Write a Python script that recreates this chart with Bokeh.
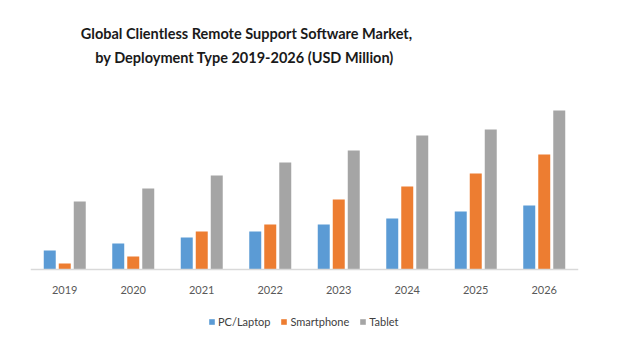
from bokeh.plotting import figure
from bokeh.models import ColumnDataSource, FactorRange, Range1d, Legend, LegendItem, Label
from bokeh.transform import dodge
from bokeh.embed import file_html
from bokeh.resources import INLINE

years = ["2019", "2020", "2021", "2022", "2023", "2024", "2025", "2026"]
pc_laptop = [19, 26, 32, 38, 45, 51, 58, 64]
smartphone = [6, 13, 38, 45, 70, 83, 96, 115]
tablet = [68, 81, 94, 107, 119, 134, 140, 159]
series_names = ["PC/Laptop", "Smartphone", "Tablet"]
colors = ["#5B9BD5", "#ED7D31", "#A5A5A5"]
title_lines = ["Global Clientless Remote Support Software Market,",
               "by Deployment  Type 2019-2026 (USD Million)"]

src = ColumnDataSource(dict(year=years, pc=pc_laptop, sp=smartphone, tab=tablet))

p = figure(frame_width=548, frame_height=353, x_range=FactorRange(factors=years),
           y_range=Range1d(-84, 269), output_backend="svg", toolbar_location=None,
           min_border_left=30, min_border_right=66, min_border_top=0,
           min_border_bottom=0)
p.outline_line_color = None
p.background_fill_color = "white"
p.border_fill_color = "white"
p.xgrid.visible = False
p.ygrid.visible = False
p.yaxis.visible = False

off = 0.219
w = 0.175
r1 = p.vbar(x=dodge("year", -off, range=p.x_range), top="pc", width=w, source=src,
            fill_color=colors[0], line_color=None)
r2 = p.vbar(x=dodge("year", 0.0, range=p.x_range), top="sp", width=w, source=src,
            fill_color=colors[1], line_color=None)
r3 = p.vbar(x=dodge("year", off, range=p.x_range), top="tab", width=w, source=src,
            fill_color=colors[2], line_color=None)

ax = p.xaxis[0]
ax.fixed_location = 0
ax.axis_line_color = "#D9D9D9"
ax.axis_line_width = 1.5
ax.major_tick_line_color = None
ax.minor_tick_line_color = None
ax.major_label_standoff = 10
ax.major_label_text_font = "Lato"
ax.major_label_text_font_size = "11px"
ax.major_label_text_color = "#595959"

legend = Legend(items=[LegendItem(label=series_names[0], renderers=[r1]),
                       LegendItem(label=series_names[1], renderers=[r2]),
                       LegendItem(label=series_names[2], renderers=[r3])],
                orientation="horizontal", location=(178, 25),
                glyph_width=7, glyph_height=7, label_standoff=3, spacing=10,
                label_text_font="Lato", label_text_font_size="11px",
                label_text_color="#404040", border_line_color=None,
                background_fill_alpha=0, padding=0, margin=0)
p.add_layout(legend)

for line, yy in zip(title_lines, [236, 212]):
    p.add_layout(Label(x=3.153, y=yy, text=line, text_align="center",
                       text_baseline="alphabetic", text_font="Lato",
                       text_font_style="bold", text_font_size="14.5px",
                       text_color="#1a1a1a"))

open("out.html", "w").write(file_html(p, INLINE))
